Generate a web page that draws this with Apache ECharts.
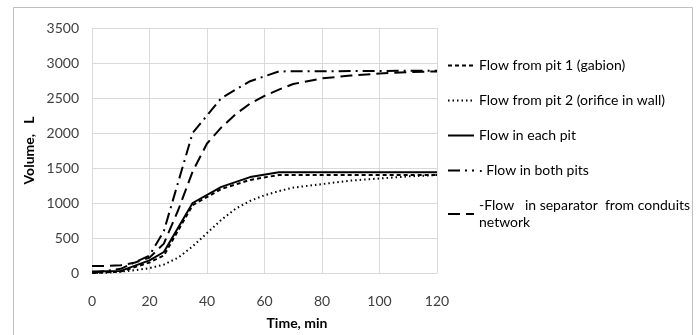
<!DOCTYPE html>
<html>
<head>
<meta charset="utf-8">
<script src="https://cdn.jsdelivr.net/npm/echarts@6/dist/echarts.min.js"></script>
<style>
  html, body { margin: 0; padding: 0; background: #fff; }
  #chart { width: 699px; height: 335px; }
</style>
</head>
<body>
<div id="chart"></div>
<script>
// time samples (min)
const timeKinked = [0, 10, 20, 25, 35, 45, 55, 65, 120]
const timeSmooth = [0, 5, 10, 15, 20, 25, 30, 35, 40, 45, 50, 55, 60, 65, 70, 80, 90, 100, 110, 120]

// volumes (L)
const pit1 = [0, 20, 150, 250, 970, 1200, 1330, 1400, 1400]
const eachPit = [20, 30, 180, 300, 1000, 1230, 1370, 1440, 1440]
const bothPits = [0, 60, 250, 600, 2000, 2500, 2740, 2880, 2890]
const pit2 = [0, 5, 20, 40, 70, 120, 220, 380, 570, 760, 920, 1030, 1110, 1170, 1220, 1270, 1320, 1350, 1380, 1400]
const separator = [100, 100, 110, 150, 220, 420, 900, 1450, 1850, 2080, 2270, 2420, 2530, 2620, 2700, 2780, 2820, 2850, 2870, 2880]

const names = [
  'Flow from pit 1 (gabion)',
  'Flow from pit 2 (orifice in wall)',
  'Flow in each pit',
  'Flow in both pits',
  'Flow   in separator  from conduits network'
]
const legendText = {
  'Flow in both pits': '· Flow in both pits',
  'Flow   in separator  from conduits network': '-Flow   in separator  from conduits\nnetwork'
}

const pairs = (xs, ys) => xs.map((x, i) => [x, ys[i]])
const FONT = 'Lato'

const chart = echarts.init(document.getElementById('chart'), null, { renderer: 'canvas' })

const mk = (name, data, type, width) => ({
  name,
  type: 'line',
  data,
  symbol: 'none',
  color: '#000',
  itemStyle: { color: '#000' },
  lineStyle: { color: '#000', width, type },
  animation: false
})

chart.setOption({
  backgroundColor: '#fff',
  textStyle: { fontFamily: FONT, color: '#333' },
  graphic: [{
    type: 'rect',
    shape: { x: 13.5, y: 7.5, width: 679, height: 330 },
    style: { fill: 'none', stroke: '#bfbfbf', lineWidth: 1 },
    silent: true
  }],
  grid: { left: 92, right: 262, top: 28, bottom: 60 },
  xAxis: {
    type: 'value',
    min: 0, max: 120, interval: 20,
    name: 'Time, min',
    nameLocation: 'middle',
    nameGap: 43,
    nameTextStyle: { fontFamily: FONT, fontWeight: 'bold', fontSize: 14, color: '#000', padding: [0, 0, 0, 65] },
    axisLine: { lineStyle: { color: '#d9d9d9' } },
    axisTick: { show: false },
    axisLabel: { fontFamily: FONT, fontSize: 14, color: '#404040', margin: 21 },
    splitLine: { lineStyle: { color: '#d9d9d9' } }
  },
  yAxis: {
    type: 'value',
    min: 0, max: 3500, interval: 500,
    name: 'Volume,   L',
    nameLocation: 'middle',
    nameGap: 56,
    nameTextStyle: { fontFamily: FONT, fontWeight: 'bold', fontSize: 14, color: '#000' },
    axisLine: { show: false },
    axisTick: { show: false },
    axisLabel: { fontFamily: FONT, fontSize: 14, color: '#404040', margin: 13, formatter: (v) => String(v) },
    splitLine: { lineStyle: { color: '#d9d9d9' } }
  },
  legend: {
    orient: 'vertical',
    left: 442,
    top: 52,
    itemWidth: 26,
    itemHeight: 14,
    itemGap: 18,
    itemStyle: { opacity: 0 },
    textStyle: { fontFamily: FONT, fontSize: 14, color: '#000', lineHeight: 17 },
    formatter: (n) => legendText[n] || n,
    data: names
  },
  series: [
    mk(names[0], pairs(timeKinked, pit1), [4, 3], 2),
    mk(names[1], pairs(timeSmooth, pit2), [1.5, 3], 2),
    mk(names[2], pairs(timeKinked, eachPit), 'solid', 2),
    mk(names[3], pairs(timeKinked, bothPits), [12, 5, 2, 5], 2),
    mk(names[4], pairs(timeSmooth, separator), [12, 6], 2)
  ]
})
</script>
</body>
</html>
